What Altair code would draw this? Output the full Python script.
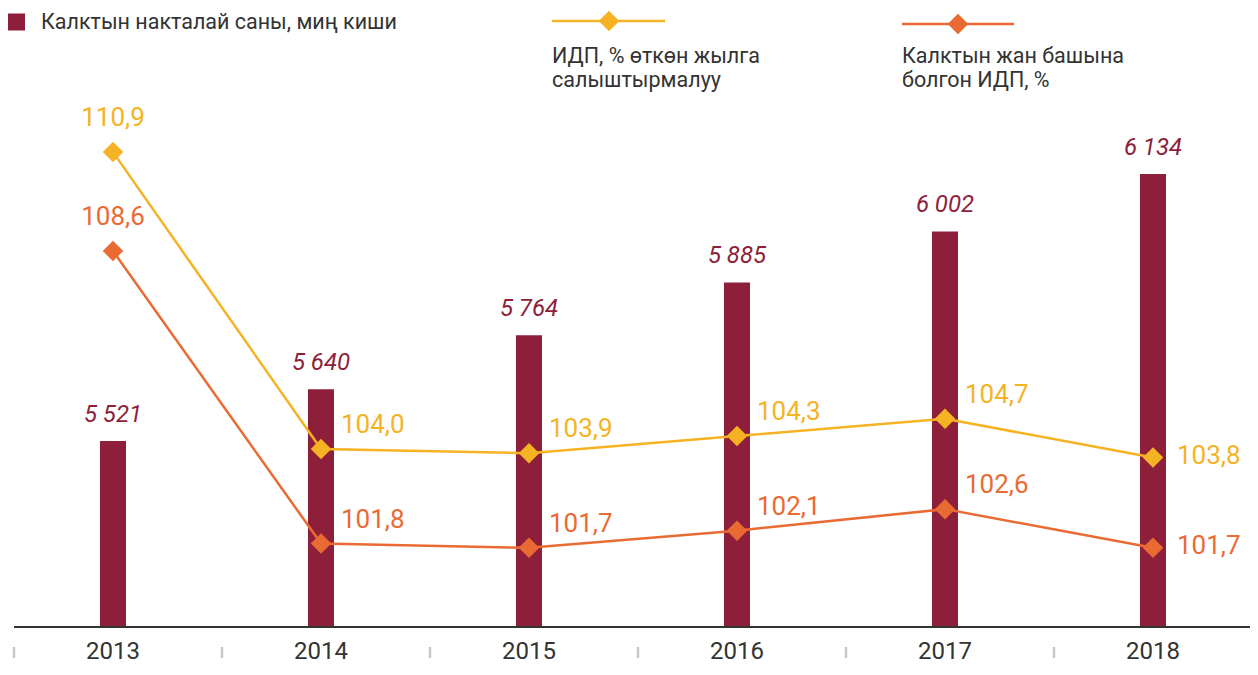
import altair as alt
import pandas as pd

years = ["2013", "2014", "2015", "2016", "2017", "2018"]
population = [5521, 5640, 5764, 5885, 6002, 6134]
gdp_growth = [110.9, 104.0, 103.9, 104.3, 104.7, 103.8]
gdp_per_capita = [108.6, 101.8, 101.7, 102.1, 102.6, 101.7]

legend_pop = "Калктын накталай саны, миң киши"
legend_gdp = ["ИДП, % өткөн жылга", "салыштырмалуу"]
legend_pc = ["Калктын жан башына", "болгон ИДП, %"]

MAROON = "#8E1F3A"
YEL = "#F5B323"
ORG = "#EA6A33"
TXT = "#333333"
FONT = "Roboto"

df = pd.DataFrame({"year": years, "pop": population, "gdp": gdp_growth, "gdppc": gdp_per_capita})

W, H = 1241, 619
base = alt.Chart(df)
xenc = alt.X("year:N", sort=years, scale=alt.Scale(paddingInner=0, paddingOuter=0, range=[0, 1248]), axis=None)
ybar = alt.Y("pop:Q", scale=alt.Scale(domain=[5094, 6515], zero=False, nice=False), axis=None, stack=None)
lscale = alt.Scale(domain=[99.86, 114.25], zero=False, nice=False)

bars = base.mark_bar(size=26, color=MAROON).encode(x=xenc, y=ybar, y2=alt.value(H))
bar_labels = base.transform_calculate(
    lbl="replace(format(datum.pop, ','), ',', ' ')"
).mark_text(font=FONT, fontSize=24, fontStyle="italic", color=MAROON, dy=-26, baseline="middle").encode(
    x=xenc, y=ybar, text="lbl:N"
)

layers = [bars, bar_labels]

for field, col in [("gdp", YEL), ("gdppc", ORG)]:
    yl = alt.Y(f"{field}:Q", scale=lscale, axis=None)
    layers.append(base.mark_line(color=col, strokeWidth=2.5).encode(x=xenc, y=yl))
    layers.append(base.mark_point(shape="diamond", size=420, filled=True, opacity=1, color=col).encode(x=xenc, y=yl))
    lab = base.transform_calculate(lbl=f"replace(format(datum.{field}, '.1f'), '.', ',')")
    layers.append(lab.transform_filter("datum.year == '2013'").mark_text(
        font=FONT, fontSize=26, color=col, align="center", baseline="middle", dy=-34
    ).encode(x=xenc, y=yl, text="lbl:N"))
    layers.append(lab.transform_filter("datum.year != '2013' && datum.year != '2018'").mark_text(
        font=FONT, fontSize=26, color=col, align="left", baseline="middle", dx=20, dy=-24
    ).encode(x=xenc, y=yl, text="lbl:N"))
    layers.append(lab.transform_filter("datum.year == '2018'").mark_text(
        font=FONT, fontSize=26, color=col, align="left", baseline="middle", dx=24, dy=-2
    ).encode(x=xenc, y=yl, text="lbl:N"))

# year labels and separators
layers.append(base.mark_text(font=FONT, fontSize=24, color=TXT, baseline="middle").encode(
    x=xenc, y=alt.value(644), text="year:N"))
layers.append(base.mark_rule(color="#c8c8c8", strokeWidth=2.5, xOffset=5).encode(
    x=alt.X("year:N", sort=years, bandPosition=0), y=alt.value(639), y2=alt.value(650)))

one = alt.Chart(alt.Data(values=[{}]))
# baseline
layers.append(one.mark_rule(color=TXT, strokeWidth=2).encode(x=alt.value(5), x2=alt.value(1249), y=alt.value(619)))
# legends
layers.append(one.mark_square(size=289, color=MAROON, opacity=1).encode(x=alt.value(7.5), y=alt.value(14)))
layers.append(one.mark_text(font=FONT, fontSize=21.5, color=TXT, align="left", baseline="middle").encode(
    x=alt.value(32), y=alt.value(15), text=alt.value(legend_pop)))
for (x1, x2, xd, yy, col, lines) in [(543, 656, 600, 13, YEL, legend_gdp), (893, 1005, 949, 16, ORG, legend_pc)]:
    layers.append(one.mark_rule(color=col, strokeWidth=2.5).encode(x=alt.value(x1), x2=alt.value(x2), y=alt.value(yy)))
    layers.append(one.mark_point(shape="diamond", size=420, filled=True, opacity=1, color=col).encode(
        x=alt.value(xd), y=alt.value(yy)))
    for i, t in enumerate(lines):
        layers.append(one.mark_text(font=FONT, fontSize=21.5, color=TXT, align="left", baseline="middle").encode(
            x=alt.value(x1), y=alt.value(48.5 + 24 * i), text=alt.value(t)))

chart = alt.layer(*layers).resolve_scale(y="independent").properties(
    width=W, height=H,
    autosize=alt.AutoSizeParams(type="none"),
    padding={"left": 1, "top": 0, "right": 0, "bottom": 40},
).configure(font=FONT).configure_view(strokeWidth=0, stroke="transparent")

chart.save("out.html", embed_options={"renderer": "svg", "actions": False})
